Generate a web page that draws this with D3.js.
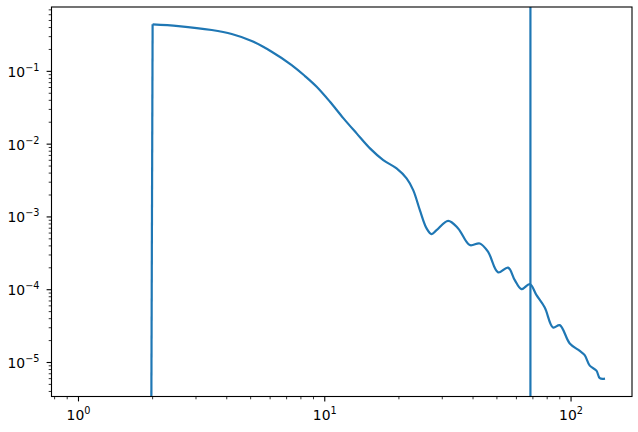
<!DOCTYPE html>
<html>
<head>
<meta charset="utf-8">
<script src="https://cdn.jsdelivr.net/npm/d3@7"></script>
<style>
  html, body { margin: 0; padding: 0; background: #fff; }
  svg { display: block; font-family: "DejaVu Sans", sans-serif; }
</style>
</head>
<body>
<svg id="chart" width="638" height="432"></svg>
<script>
// ---- data ----
const xVals = [1, 2, 2.545, 3.476, 4.19, 5.05, 6.088, 7.34, 8.31, 9.27,
  10.5, 11.89, 13.47, 15.26, 17.28, 19.57, 21.49, 22.86, 24.33, 25.91,
  27.15, 28.44, 31.7, 34.8, 38.8, 42.6, 46.06, 50.6, 55.5, 59.1,
  62.9, 68.0, 72.4, 78.2, 84.5, 90.0, 98.8, 108.5, 113.6, 119.1,
  126.8, 130.8, 137.4];
const yVals = [0, 0.443, 0.4195, 0.3696, 0.3256, 0.261, 0.186, 0.122, 0.0862, 0.0614,
  0.0382, 0.0228, 0.01405, 0.00874, 0.00604, 0.00464, 0.00338, 0.002335, 0.00124, 0.000695,
  0.00058, 0.000658, 0.000884, 0.000695, 0.00041, 0.000432, 0.000331, 0.000173, 0.000201, 0.0001353,
  0.0001018, 0.0001192, 8.42e-5, 5.7e-5, 3.03e-5, 3.26e-5, 1.825e-5, 1.443e-5, 1.26e-5, 9.05e-6,
  7.73e-6, 6.09e-6, 6.0e-6];
const vlineX = 68.4;
const xMajorTicks = [1, 10, 100];
const xTickLabels = ["0", "1", "2"];
const yMajorTicks = [1e-5, 1e-4, 1e-3, 1e-2, 1e-1];
const yTickLabels = ["\u22125", "\u22124", "\u22123", "\u22122", "\u22121"];
const xDomain = [0.777, 176.8];
const yDomain = [3.41e-6, 0.766];

// ---- layout ----
const svg = d3.select("#chart");
const L = 51.5, R = 632, T = 7, B = 396.5;
const color = "#1f77b4";
const x = d3.scaleLog().domain(xDomain).range([L, R]);
const y = d3.scaleLog().domain(yDomain).range([B, T]);

svg.append("defs").append("clipPath").attr("id", "clip")
  .append("rect").attr("x", L).attr("y", T).attr("width", R - L).attr("height", B - T);

const data = xVals.map((v, i) => ({x: v, y: yVals[i]}));
const yPos = v => v > 0 ? y(v) : y(1e-300);

const g = svg.append("g").attr("clip-path", "url(#clip)");
// first (vertical) segment from the zero value, straight
g.append("path")
  .attr("d", d3.line().x(d => x(d.x)).y(d => yPos(d.y))(data.slice(0, 2)))
  .attr("fill", "none").attr("stroke", color).attr("stroke-width", 2.2);
g.append("path")
  .attr("d", d3.line().x(d => x(d.x)).y(d => yPos(d.y)).curve(d3.curveCatmullRom.alpha(0.5))(data.slice(1)))
  .attr("fill", "none").attr("stroke", color).attr("stroke-width", 2.2)
  .attr("stroke-linejoin", "round");
g.append("line")
  .attr("x1", x(vlineX)).attr("x2", x(vlineX)).attr("y1", T).attr("y2", B)
  .attr("stroke", color).attr("stroke-width", 2.2);

// ---- minor ticks ----
function minorTicks(domain) {
  const out = [];
  const lo = Math.floor(Math.log10(domain[0])), hi = Math.ceil(Math.log10(domain[1]));
  for (let e = lo; e <= hi; e++) {
    for (let k = 2; k <= 9; k++) {
      const v = k * Math.pow(10, e);
      if (v >= domain[0] && v <= domain[1]) out.push(v);
    }
  }
  return out;
}
const ax = svg.append("g");
minorTicks(xDomain).forEach(v => {
  ax.append("line").attr("x1", x(v)).attr("x2", x(v)).attr("y1", B).attr("y2", B + 2.8)
    .attr("stroke", "#000").attr("stroke-width", 0.8);
});
minorTicks(yDomain).forEach(v => {
  ax.append("line").attr("y1", y(v)).attr("y2", y(v)).attr("x1", L).attr("x2", L - 2.8)
    .attr("stroke", "#000").attr("stroke-width", 0.8);
});
// ---- major ticks + labels ----
xMajorTicks.forEach((v, i) => {
  ax.append("line").attr("x1", x(v)).attr("x2", x(v)).attr("y1", B).attr("y2", B + 4.9)
    .attr("stroke", "#000").attr("stroke-width", 1.1);
  const t = ax.append("text").attr("x", x(v)).attr("y", B + 23.5)
    .attr("text-anchor", "middle").attr("font-size", 13.9).attr("fill", "#000");
  t.append("tspan").text("10");
  t.append("tspan").attr("dy", -6).attr("font-size", 9.7).text(xTickLabels[i]);
});
yMajorTicks.forEach((v, i) => {
  ax.append("line").attr("y1", y(v)).attr("y2", y(v)).attr("x1", L).attr("x2", L - 4.9)
    .attr("stroke", "#000").attr("stroke-width", 1.1);
  const t = ax.append("text").attr("x", L - 12).attr("y", y(v) + 5.5)
    .attr("text-anchor", "end").attr("font-size", 13.9).attr("fill", "#000");
  t.append("tspan").text("10");
  t.append("tspan").attr("dy", -6).attr("font-size", 9.7).text(yTickLabels[i]);
});
// ---- frame ----
svg.append("rect").attr("x", L).attr("y", T).attr("width", R - L).attr("height", B - T)
  .attr("fill", "none").attr("stroke", "#000").attr("stroke-width", 1.1);
</script>
</body>
</html>
